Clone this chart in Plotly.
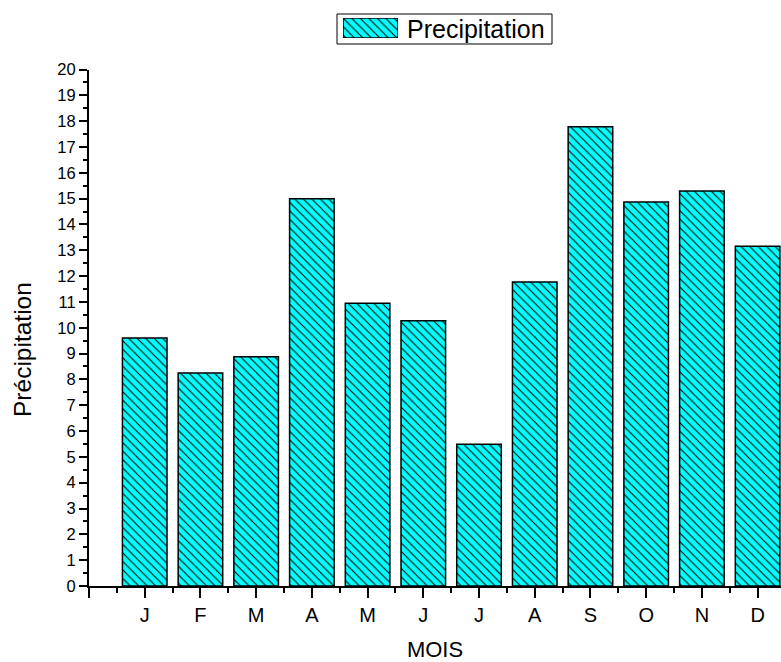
import plotly.graph_objects as go

# Monthly precipitation
months = ["J", "F", "M", "A", "M", "J", "J", "A", "S", "O", "N", "D"]
precip = [9.6, 8.25, 8.88, 15.0, 10.95, 10.27, 5.49, 11.77, 17.78, 14.87, 15.30, 13.16]

series_name = "Precipitation"
x_title = "MOIS"
y_title = "Précipitation"

# Canvas geometry (pixels)
W, H = 781, 662
M_L, M_R, M_T, M_B = 89, 0, 10, 76
PLOT_W = W - M_L - M_R
PLOT_H = H - M_T - M_B
Y_TOP_PX = 69.5          # pixel row of the top of the value axis


def px_x(p):
    return (p - M_L) / PLOT_W


def px_y(p):
    return (H - M_B - p) / PLOT_H


CYAN = "#00FFFF"
FONT = "Arial, 'Liberation Sans', sans-serif"

hatch = dict(shape="\\", size=6, solidity=0.18, fgcolor="black",
             bgcolor=CYAN, fillmode="replace")
bar_marker = dict(color=CYAN, line=dict(color="black", width=1.5), pattern=hatch)

xs = list(range(len(months)))

fig = go.Figure()
fig.add_trace(go.Bar(
    x=xs, y=precip, width=0.8, marker=bar_marker,
    name=series_name, showlegend=False,
    hovertemplate="%{y}<extra></extra>",
))

# Legend key: a single hatched swatch on its own small axes
fig.add_trace(go.Bar(
    x=[0], y=[1], width=1, marker=bar_marker,
    xaxis="x2", yaxis="y2", showlegend=False, hoverinfo="skip",
))

axis_common = dict(showgrid=False, zeroline=False, showline=True,
                   linecolor="black", linewidth=2, ticks="outside",
                   tickcolor="black", tickwidth=1.5)

fig.update_layout(
    width=W, height=H,
    margin=dict(l=M_L, r=M_R, t=M_T, b=M_B, pad=0),
    paper_bgcolor="white", plot_bgcolor="white",
    bargap=0.2,
    showlegend=False,
    xaxis=dict(
        **axis_common,
        range=[-1, 11.42],
        tickmode="array",
        tickvals=[-1] + xs,
        ticktext=[""] + months,
        ticklen=10,
        tickfont=dict(family=FONT, size=20, color="black"),
        minor=dict(tickmode="array", tickvals=[i - 0.5 for i in range(len(months) + 1)],
                   ticks="outside", ticklen=5, tickwidth=1.5, tickcolor="black"),
        title=dict(text=x_title, font=dict(family=FONT, size=22, color="black"),
                   standoff=18),
    ),
    yaxis=dict(
        **axis_common,
        domain=[0, px_y(Y_TOP_PX)],
        range=[0, 20],
        tickmode="linear", tick0=0, dtick=1,
        ticklen=8,
        tickfont=dict(family=FONT, size=16.5, color="black"),
        minor=dict(tickmode="linear", tick0=0, dtick=0.5, ticks="outside",
                   ticklen=4, tickwidth=1.5, tickcolor="black"),
    ),
    xaxis2=dict(domain=[px_x(343), px_x(398)], range=[-0.5, 0.5],
                visible=False, fixedrange=True, anchor="y2"),
    yaxis2=dict(domain=[px_y(38), px_y(18)], range=[0, 1],
                visible=False, fixedrange=True, anchor="x2"),
    shapes=[dict(type="rect", xref="paper", yref="paper",
                 x0=px_x(337), x1=px_x(552), y0=px_y(44), y1=px_y(14),
                 line=dict(color="black", width=1), fillcolor="rgba(0,0,0,0)")],
    annotations=[
        dict(text=series_name, xref="paper", yref="paper",
             x=px_x(405), y=px_y(29), xanchor="left", yanchor="middle",
             showarrow=False,
             font=dict(family=FONT, size=25, color="black")),
        # value-axis title
        dict(text=y_title, xref="paper", yref="paper",
             x=px_x(22), y=px_y(350), xanchor="center", yanchor="middle",
             textangle=-90, showarrow=False,
             font=dict(family=FONT, size=24.5, color="black")),
    ],
)

fig.write_html("out.html")
